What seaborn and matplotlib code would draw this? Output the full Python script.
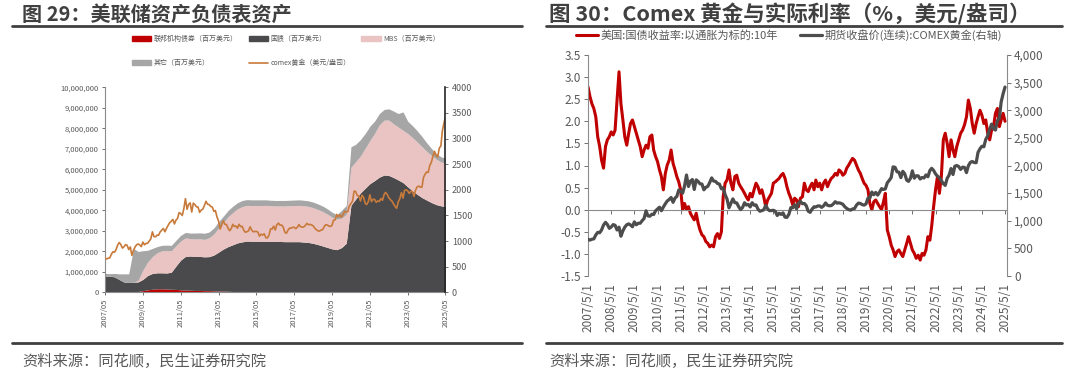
import matplotlib
matplotlib.use("Agg")
import matplotlib.pyplot as plt
from matplotlib.lines import Line2D
from matplotlib.patches import Patch
from matplotlib.ticker import FuncFormatter, FixedLocator, FixedFormatter
import matplotlib.dates as mdates
import seaborn as sns
import pandas as pd
import numpy as np

# ---------------- data ----------------
# Fed balance sheet assets, quarterly from 2007/05, trillions USD
fed_start = "2007-05-01"
agency = [0, 0, 0, 0, 0, 0, 0.01, 0.04, 0.08, 0.12, 0.15, 0.17, 0.17, 0.16, 0.15, 0.14,
          0.12, 0.11, 0.10, 0.09, 0.09, 0.08, 0.08, 0.07, 0.06, 0.06, 0.05, 0.04, 0.04, 0.04,
          0.04, 0.03, 0.03, 0.03, 0.03, 0.02, 0.02, 0.02, 0.01, 0.01, 0.01, 0.01, 0, 0, 0,
          0, 0, 0, 0, 0, 0, 0, 0, 0, 0, 0, 0, 0, 0, 0, 0, 0, 0, 0, 0, 0, 0, 0, 0, 0, 0, 0, 0]
treasury = [0.78, 0.79, 0.75, 0.62, 0.50, 0.48, 0.48, 0.47, 0.55, 0.70, 0.77, 0.78, 0.78, 0.78,
            0.83, 1.15, 1.45, 1.64, 1.67, 1.66, 1.66, 1.65, 1.66, 1.75, 1.90, 2.05, 2.18, 2.28,
            2.37, 2.42, 2.46, 2.46, 2.46, 2.46, 2.46, 2.46, 2.46, 2.46, 2.46, 2.46, 2.46, 2.46,
            2.45, 2.43, 2.39, 2.33, 2.26, 2.19, 2.12, 2.08, 2.18, 2.40, 4.25, 4.55, 4.85, 5.08,
            5.30, 5.45, 5.62, 5.72, 5.70, 5.60, 5.48, 5.35, 5.15, 4.95, 4.78, 4.62, 4.50, 4.38,
            4.28, 4.22, 4.18]
mbs = [0, 0, 0, 0, 0, 0, 0, 0.08, 0.45, 0.65, 0.82, 0.98, 1.07, 1.10, 1.04, 0.98, 0.93,
       0.90, 0.85, 0.85, 0.86, 0.85, 0.92, 1.03, 1.18, 1.30, 1.45, 1.57, 1.66, 1.72, 1.74,
       1.74, 1.74, 1.74, 1.75, 1.74, 1.73, 1.73, 1.74, 1.75, 1.76, 1.77, 1.77, 1.76, 1.74,
       1.71, 1.68, 1.62, 1.55, 1.49, 1.44, 1.40, 1.85, 1.82, 1.80, 1.95, 2.10, 2.30, 2.55,
       2.68, 2.70, 2.62, 2.58, 2.55, 2.60, 2.60, 2.55, 2.48, 2.38, 2.30, 2.22, 2.14, 2.12]
other = [0.14, 0.12, 0.17, 0.28, 0.40, 0.42, 1.65, 1.40, 0.95, 0.58, 0.40, 0.30, 0.27, 0.26,
         0.27, 0.27, 0.28, 0.27, 0.27, 0.29, 0.29, 0.30, 0.28, 0.29, 0.30, 0.30, 0.31, 0.31,
         0.30, 0.30, 0.28, 0.28, 0.28, 0.28, 0.27, 0.27, 0.27, 0.27, 0.27, 0.27, 0.27, 0.27,
         0.27, 0.27, 0.27, 0.27, 0.27, 0.26, 0.24, 0.21, 0.38, 0.44, 1.00, 0.85, 0.80, 0.72,
         0.70, 0.60, 0.55, 0.52, 0.55, 0.62, 0.66, 0.90, 0.60, 0.58, 0.55, 0.50, 0.42, 0.34,
         0.28, 0.25, 0.25]

# COMEX gold, monthly from 2007/05, USD/oz
gold_start = "2007-05-01"
gold = [665, 650, 665, 672, 743, 790, 783, 834,
        923, 971, 933, 863, 887, 930, 918, 833, 884, 720, 817, 884,
        928, 943, 924, 891, 980, 927, 955, 955, 1001, 1040, 1180, 1087,
        1083, 1118, 1113, 1180, 1213, 1245, 1181, 1248, 1307, 1357, 1386, 1421,
        1334, 1411, 1439, 1556, 1536, 1500, 1628, 1828, 1620, 1714, 1746, 1566,
        1740, 1710, 1668, 1664, 1560, 1604, 1622, 1692, 1776, 1719, 1712, 1675,
        1663, 1578, 1596, 1472, 1393, 1234, 1314, 1396, 1327, 1323, 1253, 1202,
        1240, 1326, 1284, 1296, 1250, 1327, 1282, 1287, 1210, 1172, 1183, 1199,
        1278, 1213, 1183, 1184, 1190, 1172, 1095, 1135, 1115, 1142, 1065, 1061,
        1116, 1238, 1233, 1291, 1215, 1320, 1350, 1309, 1313, 1273, 1173, 1152,
        1211, 1253, 1249, 1268, 1268, 1242, 1269, 1322, 1280, 1271, 1275, 1303,
        1345, 1318, 1325, 1315, 1298, 1253, 1223, 1202, 1192, 1214, 1221, 1281,
        1319, 1313, 1292, 1283, 1305, 1409, 1413, 1520, 1472, 1513, 1464, 1517,
        1582, 1566, 1577, 1687, 1730, 1781, 1975, 1967, 1886, 1879, 1780, 1895,
        1848, 1734, 1713, 1768, 1903, 1770, 1814, 1813, 1755, 1783, 1774, 1829,
        1796, 1909, 1949, 1911, 1848, 1807, 1781, 1726, 1672, 1640, 1768, 1826,
        1945, 1837, 1986, 1999, 1982, 1929, 1970, 1966, 1871, 1996, 2057, 2072,
        2054, 2050, 2238, 2303, 2348, 2339, 2473, 2536, 2659, 2749, 2665, 2641,
        2812, 2857, 3150, 3300, 3420]

# US 10y TIPS real yield, monthly from 2007/05, %
tips_start = "2007-05-01"
tips = [2.78, 2.56, 2.40, 2.29, 2.10, 1.65, 1.43, 1.12, 0.94, 1.43,
        1.58, 1.65, 1.76, 1.69, 1.80, 2.48, 3.12, 2.40, 2.03, 1.65,
        1.46, 1.73, 1.95, 2.03, 1.88, 1.73, 1.58, 1.43, 1.20, 1.35,
        1.46, 1.39, 1.65, 1.69, 1.35, 1.20, 1.09, 0.90, 0.75, 0.45,
        0.82, 1.01, 1.12, 1.35, 1.05, 0.90, 0.75, 0.63, 0.45, 0.00,
        0.14, 0.00, 0.07, -0.08, -0.16, -0.23, -0.08, -0.31, -0.46, -0.57,
        -0.61, -0.72, -0.76, -0.84, -0.80, -0.84, -0.61, -0.54, -0.65, -0.50,
        0.29, 0.60, 0.67, 0.90, 0.60, 0.45, 0.75, 0.78, 0.60, 0.52,
        0.45, 0.37, 0.29, 0.22, 0.37, 0.29, 0.45, 0.60, 0.52, 0.37,
        0.45, 0.29, 0.07, 0.22, 0.29, 0.37, 0.60, 0.63, 0.67, 0.71,
        0.78, 0.82, 0.71, 0.52, 0.37, 0.26, 0.11, 0.26, 0.22, 0.07,
        0.26, 0.29, 0.60, 0.45, 0.41, 0.52, 0.60, 0.45, 0.67, 0.52,
        0.60, 0.45, 0.60, 0.67, 0.52, 0.63, 0.71, 0.75, 0.82, 0.78,
        0.90, 0.86, 0.78, 0.82, 0.94, 1.01, 1.09, 1.16, 1.12, 1.01,
        0.90, 0.82, 0.71, 0.60, 0.55, 0.45, 0.14, 0.00, 0.18, 0.22,
        0.14, 0.07, 0.00, 0.18, 0.37, -0.46, -0.61, -0.80, -0.91, -1.06,
        -0.95, -0.91, -0.99, -1.06, -0.91, -0.76, -0.61, -0.76, -0.91, -0.99,
        -1.10, -1.03, -1.14, -0.99, -1.03, -0.91, -0.61, -0.69, -0.38, 0.07,
        0.45, 0.75, 0.37, 0.75, 1.58, 1.73, 1.50, 1.20, 1.58, 1.35,
        1.20, 1.43, 1.58, 1.73, 1.80, 1.92, 2.10, 2.48, 2.29, 1.95,
        1.73, 1.95, 2.10, 2.25, 2.14, 1.95, 2.03, 1.73, 1.58, 1.80,
        1.88, 2.18, 2.29, 1.88, 2.03, 2.18, 2.00]

fed_labels = ["联邦机构债券（百万美元）", "国债（百万美元）", "MBS（百万美元）", "其它（百万美元）"]
fed_gold_label = "comex黄金（美元/盎司）"
tips_label = "美国:国债收益率:以通胀为标的:10年"
gold_label = "期货收盘价(连续):COMEX黄金(右轴)"
title_left = "图 29：美联储资产负债表资产"
title_right = "图 30：Comex 黄金与实际利率（%，美元/盎司）"
source = "资料来源：同花顺，民生证券研究院"

# ---------------- style ----------------
sns.set_theme(style="white")
plt.rcParams["font.family"] = ["Noto Sans CJK SC", "DejaVu Sans"]
plt.rcParams["axes.unicode_minus"] = False

W, H = 1072, 380
fig = plt.figure(figsize=(W / 100, H / 100), dpi=100)

def fx(px):
    return px / W

def fy(py):
    return 1 - py / H

TXT = "#595959"
SPINE = "#8c8c8c"
c_agency, c_tsy, c_mbs, c_other = "#c00000", "#4a4a4c", "#eac3c3", "#a6a6a6"
c_gold_l = "#c87a3a"
c_red, c_gray = "#c00000", "#4d4d4d"

def set_date_ticks(ax, ticks, labels):
    ax.xaxis.set_major_locator(FixedLocator(mdates.date2num(ticks)))
    ax.xaxis.set_major_formatter(FixedFormatter(labels))
    ax.xaxis.set_minor_locator(FixedLocator([]))

# ---------------- left panel ----------------
fed_dates = pd.date_range(fed_start, periods=len(treasury), freq="3MS")
gold_dates = pd.date_range(gold_start, periods=len(gold), freq="MS")
scale = 1e6
axL = fig.add_axes([fx(105), fy(292.3), fx(445.5) - fx(105), fy(87.3) - fy(292.3)])
axL.stackplot(fed_dates,
              np.array(agency) * scale, np.array(treasury) * scale,
              np.array(mbs) * scale, np.array(other) * scale,
              colors=[c_agency, c_tsy, c_mbs, c_other], linewidth=0)

axL2 = axL.twinx()
sns.lineplot(x=gold_dates, y=gold, ax=axL2, color=c_gold_l, linewidth=1.2, legend=False)

axL.set_xlim(pd.Timestamp("2007-05-01"), pd.Timestamp("2025-05-01"))
axL.set_ylim(0, 10_000_000)
axL.set_yticks(np.arange(0, 10_000_001, 1_000_000))
axL.yaxis.set_major_formatter(FuncFormatter(lambda v, p: f"{v:,.0f}"))
left_xt = [pd.Timestamp(f"{y}-05-01") for y in range(2007, 2026, 2)]
set_date_ticks(axL, left_xt, [f"{d:%Y/%m}" for d in left_xt])
axL.tick_params(axis="both", labelsize=5.5, colors=TXT, length=2.5, width=0.6,
                bottom=True, left=True, pad=2)
axL.tick_params(axis="x", labelrotation=90)
for s in ["top", "right"]:
    axL.spines[s].set_visible(False)
for s in ["left", "bottom"]:
    axL.spines[s].set_color(SPINE)
    axL.spines[s].set_linewidth(0.8)

axL2.set_ylim(0, 4000)
axL2.set_yticks(np.arange(0, 4001, 500))
axL2.tick_params(axis="y", labelsize=6.5, colors=TXT, length=2.5, width=0.6, right=True, pad=2)
axL2.set_xlabel("")
axL2.set_ylabel("")
for s in ["top", "left", "bottom"]:
    axL2.spines[s].set_visible(False)
axL2.spines["right"].set_color("#262626")
axL2.spines["right"].set_linewidth(1.2)

handles = [Patch(color=c_agency), Patch(color=c_other), Patch(color=c_tsy),
           Line2D([], [], color=c_gold_l, lw=1.2), Patch(color=c_mbs)]
labels = [fed_labels[0], fed_labels[3], fed_labels[1], fed_gold_label, fed_labels[2]]
fig.legend(handles, labels, loc="upper left", bbox_to_anchor=(fx(132), fy(35)),
           ncol=3, frameon=False, fontsize=5, labelcolor=TXT, borderpad=0,
           borderaxespad=0, handlelength=2.8, handleheight=0.6, handletextpad=0.3,
           columnspacing=1.6, labelspacing=2.3)

# ---------------- right panel ----------------
tips_dates = pd.date_range(tips_start, periods=len(tips), freq="MS")
axR = fig.add_axes([fx(588), fy(276), fx(1007) - fx(588), fy(55) - fy(276)])
sns.lineplot(x=tips_dates, y=tips, ax=axR, color=c_red, linewidth=2.2, legend=False)

axR2 = axR.twinx()
sns.lineplot(x=gold_dates, y=gold, ax=axR2, color=c_gray, linewidth=2.3, legend=False)

axR.set_xlim(pd.Timestamp("2007-05-01"), pd.Timestamp("2025-06-01"))
axR.set_ylim(-1.5, 3.5)
axR.set_yticks(np.arange(-1.5, 3.51, 0.5))
axR.yaxis.set_major_formatter(FuncFormatter(lambda v, p: f"{v:.1f}"))
right_xt = [pd.Timestamp(f"{y}-05-01") for y in range(2007, 2026)]
set_date_ticks(axR, right_xt, [f"{d.year}/{d.month}/{d.day}" for d in right_xt])
axR.spines["bottom"].set_position(("data", 0))
axR.tick_params(axis="x", labelsize=8.5, colors=TXT, length=3, width=0.6,
                bottom=True, pad=50, labelrotation=90)
axR.tick_params(axis="y", labelsize=8.5, colors=TXT, length=3, width=0.6, left=True, pad=2)
axR.set_xlabel("")
axR.set_ylabel("")
for s in ["top", "right"]:
    axR.spines[s].set_visible(False)
for s in ["left", "bottom"]:
    axR.spines[s].set_color(SPINE)
    axR.spines[s].set_linewidth(0.8)

axR2.set_ylim(0, 4000)
axR2.set_yticks(np.arange(0, 4001, 500))
axR2.yaxis.set_major_formatter(FuncFormatter(lambda v, p: f"{v:,.0f}"))
axR2.tick_params(axis="y", labelsize=8.5, colors=TXT, length=3, width=0.6, right=True, pad=2)
axR2.set_xlabel("")
axR2.set_ylabel("")
for s in ["top", "left", "bottom"]:
    axR2.spines[s].set_visible(False)
axR2.spines["right"].set_color(SPINE)
axR2.spines["right"].set_linewidth(0.8)

axR.legend([Line2D([], [], color=c_red, lw=2.2), Line2D([], [], color=c_gray, lw=2.3)],
           [tips_label, gold_label], loc="center", bbox_to_anchor=(0.48, 1 + 20 / 221),
           ncol=2, frameon=False, fontsize=8, labelcolor=TXT, handlelength=2.0,
           handletextpad=0.2, columnspacing=2.0, borderpad=0, borderaxespad=0)

# ---------------- titles, rules, source ----------------
for x0, x1, tx, title, fs in [(12, 522, 22, title_left, 14.5),
                              (546, 1062, 549, title_right, 15.5)]:
    fig.text(fx(tx), fy(14), title, fontsize=fs, fontweight="bold",
             color="#404040", ha="left", va="center")
    fig.add_artist(Line2D([fx(x0), fx(x1)], [fy(26), fy(26)], color="#404040", lw=2))
    fig.add_artist(Line2D([fx(x0), fx(x1)], [fy(343), fy(343)], color="#404040", lw=2))
    fig.text(fx(tx), fy(361), source, fontsize=11, color=TXT,
             ha="left", va="center")

fig.savefig("out.png", dpi=100)
